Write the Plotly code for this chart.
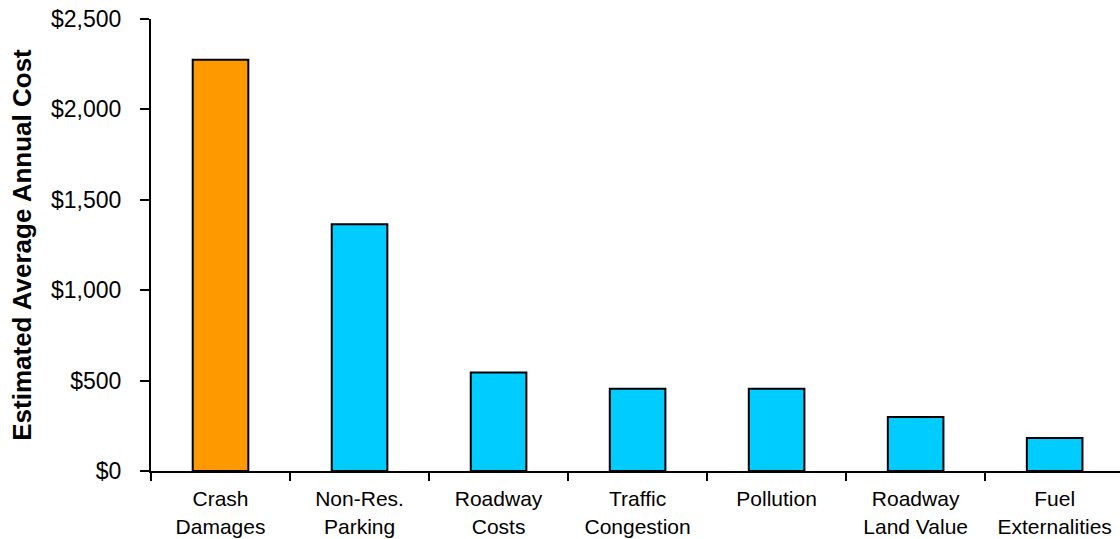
import plotly.graph_objects as go

categories = ["Crash<br>Damages", "Non-Res.<br>Parking", "Roadway<br>Costs", "Traffic<br>Congestion",
              "Pollution", "Roadway<br>Land Value", "Fuel<br>Externalities"]
values = [2275, 1365, 545, 455, 455, 298, 182]
colors = ["#FF9900", "#00CCFF", "#00CCFF", "#00CCFF", "#00CCFF", "#00CCFF", "#00CCFF"]
y_ticks = [0, 500, 1000, 1500, 2000, 2500]
y_tick_labels = ["$0", "$500", "$1,000", "$1,500", "$2,000", "$2,500"]

fig = go.Figure(go.Bar(
    x=categories, y=values,
    marker=dict(color=colors, line=dict(color="black", width=2)),
))

fig.update_layout(
    width=1120, height=539,
    margin=dict(l=151, r=0, t=19, b=68),
    paper_bgcolor="white", plot_bgcolor="white",
    bargap=0.6,
    font=dict(family="Liberation Sans, Arial, sans-serif", size=21, color="black"),
    showlegend=False,
)
fig.update_xaxes(
    range=[-0.5, 6.47], showline=True, linecolor="black", linewidth=2,
    ticks="outside", ticklen=8, tickwidth=2, tickcolor="black", tickson="boundaries",
    showgrid=False, tickangle=0, tickfont=dict(size=21), automargin=False,
    ticklabelstandoff=8,
)
fig.update_yaxes(
    range=[0, 2500], tickvals=y_ticks, ticktext=y_tick_labels,
    showline=True, linecolor="black", linewidth=2,
    ticks="outside", ticklen=9, tickwidth=2, tickcolor="black",
    showgrid=False, zeroline=False, tickfont=dict(size=23), automargin=False,
    ticklabelstandoff=14,
    title=dict(text="<b>Estimated Average Annual Cost</b>", font=dict(size=26), standoff=12),
)
fig.write_html("out.html", config={"displayModeBar": False},
               post_script="document.body.style.margin='0';")
